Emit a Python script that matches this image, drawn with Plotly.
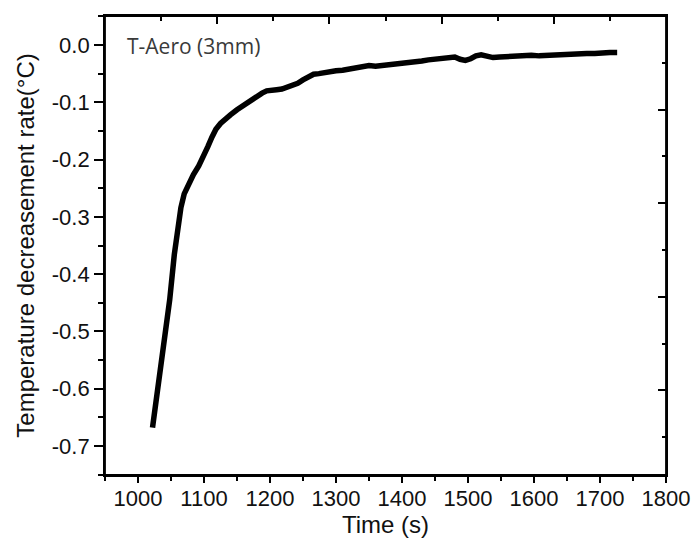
import plotly.graph_objects as go

# ---- data ----
time_s = [1022, 1030, 1040, 1048, 1055, 1060, 1065, 1070, 1077, 1084,
          1092, 1100, 1106, 1112, 1118, 1125, 1132, 1140, 1150, 1160,
          1170, 1180, 1188, 1195, 1202, 1210, 1218, 1226, 1234, 1242,
          1250, 1258, 1266, 1274, 1282, 1290, 1300, 1310, 1320, 1330,
          1340, 1350, 1360, 1370, 1380, 1390, 1400, 1410, 1420, 1430,
          1440, 1450, 1460, 1470, 1480, 1488, 1496, 1504, 1512, 1520,
          1530, 1538, 1548, 1560, 1572, 1584, 1596, 1608, 1620, 1632,
          1644, 1656, 1668, 1680, 1692, 1704, 1715, 1726]
rate = [-0.668, -0.600, -0.520, -0.445, -0.366, -0.318, -0.284, -0.260, -0.241, -0.226,
        -0.211, -0.194, -0.177, -0.161, -0.147, -0.137, -0.129, -0.122, -0.113, -0.105,
        -0.096, -0.088, -0.084, -0.080, -0.080, -0.078, -0.077, -0.074, -0.071, -0.067,
        -0.061, -0.056, -0.051, -0.050, -0.048, -0.047, -0.045, -0.044, -0.042, -0.041,
        -0.038, -0.036, -0.037, -0.036, -0.035, -0.032, -0.031, -0.031, -0.030, -0.028,
        -0.026, -0.025, -0.022, -0.021, -0.021, -0.025, -0.027, -0.024, -0.019, -0.017,
        -0.020, -0.022, -0.021, -0.020, -0.019, -0.020, -0.018, -0.019, -0.018, -0.017,
        -0.017, -0.016, -0.016, -0.015, -0.015, -0.013, -0.013, -0.013]

x_tick_vals = [1000, 1100, 1200, 1300, 1400, 1500, 1600, 1700, 1800]
x_tick_text = ["1000", "1100", "1200", "1300", "1400", "1500", "1600", "1700", "1800"]
y_tick_vals = [0.0, -0.1, -0.2, -0.3, -0.4, -0.5, -0.6, -0.7]
y_tick_text = ["0.0", "-0.1", "-0.2", "-0.3", "-0.4", "-0.5", "-0.6", "-0.7"]

series_label = "T-Aero (3mm)"
x_title = "Time (s)"
y_title = "Temperature decreasement rate(°C)"

TICK_FONT = dict(family="Liberation Sans, Arial, sans-serif", size=22, color="#111111")
TITLE_FONT = dict(family="Liberation Sans, Arial, sans-serif", size=24, color="#111111")

fig = go.Figure()
fig.add_trace(go.Scatter(
    x=time_s, y=rate, mode="lines",
    line=dict(color="black", width=5.5),
    showlegend=False, hoverinfo="skip",
))
# empty traces that bind the frame axes on the top (x2) and right (y2)
fig.add_trace(go.Scatter(
    x=[None], y=[None], xaxis="x2", yaxis="y",
    mode="lines", showlegend=False, hoverinfo="skip",
))
fig.add_trace(go.Scatter(
    x=[None], y=[None], xaxis="x", yaxis="y2",
    mode="lines", showlegend=False, hoverinfo="skip",
))

# the page body has an 8px default margin, so the figure is sized 692x540
fig.update_layout(
    width=692, height=540,
    margin=dict(l=97, r=34, t=8, b=73),
    paper_bgcolor="white", plot_bgcolor="rgba(0,0,0,0)",
    xaxis=dict(
        domain=[0, 1],
        range=[950, 1800], tickvals=x_tick_vals, ticktext=x_tick_text,
        ticks="outside", ticklen=6, tickwidth=1.5, tickcolor="black",
        minor=dict(dtick=50, tick0=950, ticks="outside", ticklen=4,
                   tickwidth=1.5, tickcolor="black", showgrid=False),
        showline=True, linecolor="black", linewidth=1.8,
        showgrid=False, zeroline=False, tickfont=TICK_FONT,
        ticklabelstandoff=-3,
        title=dict(text=x_title, font=TITLE_FONT, standoff=4),
    ),
    yaxis=dict(
        range=[-0.7506, 0.0506], tickvals=y_tick_vals, ticktext=y_tick_text,
        ticks="outside", ticklen=9, tickwidth=1.5, tickcolor="black",
        minor=dict(dtick=0.05, tick0=0, ticks="outside", ticklen=5,
                   tickwidth=1.5, tickcolor="black", showgrid=False),
        showline=True, linecolor="black", linewidth=1.8,
        showgrid=False, zeroline=False, tickfont=TICK_FONT,
        title=dict(text=y_title, font=TITLE_FONT, standoff=10),
    ),
    xaxis2=dict(
        type="linear", domain=[0, 1], side="top", anchor="y",
        range=[0, 5], dtick=1, tick0=0,
        ticks="inside", ticklen=8, tickwidth=1.5, tickcolor="black",
        minor=dict(dtick=0.5, tick0=0, ticks="inside", ticklen=5, tickwidth=1.5,
                   tickcolor="black", showgrid=False),
        showticklabels=False, showline=True, linecolor="black", linewidth=1.8,
        showgrid=False, zeroline=False,
    ),
    yaxis2=dict(
        type="linear", overlaying="y", side="right", anchor="x",
        range=[-4.904, 0], dtick=1, tick0=0,
        ticks="inside", ticklen=8, tickwidth=1.5, tickcolor="black",
        minor=dict(dtick=0.5, ticks="inside", ticklen=4, tickwidth=1.5,
                   tickcolor="black", showgrid=False),
        showticklabels=False, showline=True, linecolor="black", linewidth=1.8,
        showgrid=False, zeroline=False,
    ),
    shapes=[dict(
        type="rect", xref="paper", yref="paper", x0=0, x1=1, y0=0, y1=1,
        line=dict(color="black", width=1.8), fillcolor="rgba(0,0,0,0)",
        layer="above",
    )],
    annotations=[dict(
        text=series_label, xref="paper", yref="paper",
        x=0.036, y=0.934, xanchor="left", yanchor="middle",
        showarrow=False,
        font=dict(family="Open Sans, Noto Sans, sans-serif", size=21, color="#3a3a3a"),
    )],
)

fig.write_html("out.html")
